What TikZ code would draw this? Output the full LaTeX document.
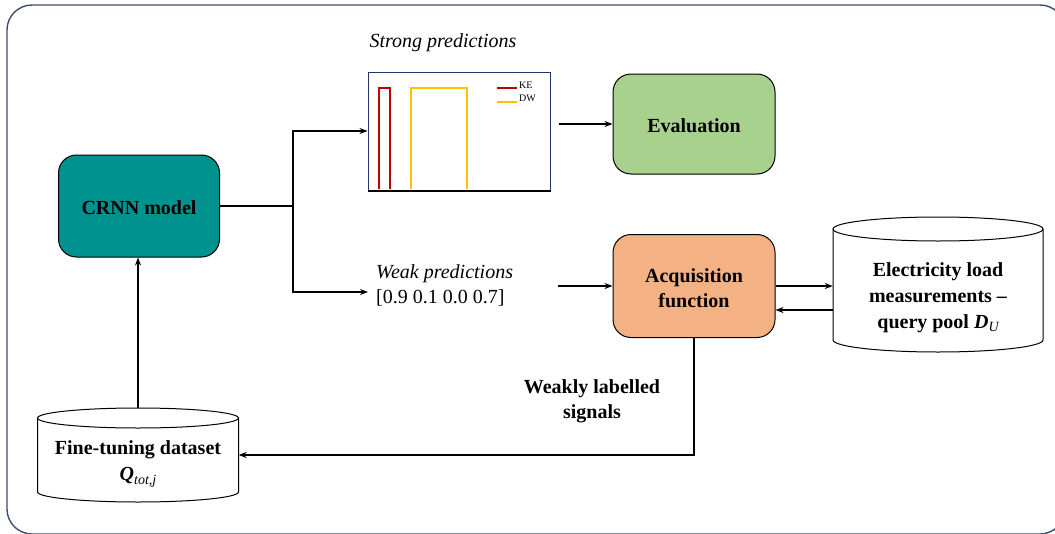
\documentclass[tikz,border=0pt]{standalone}
\usepackage{fontspec}
\setmainfont{Liberation Serif}
\usetikzlibrary{arrows.meta}
\definecolor{crnncol}{RGB}{0,146,143}
\definecolor{evalcol}{RGB}{169,209,142}
\definecolor{acqcol}{RGB}{244,177,131}
\definecolor{framecol}{RGB}{62,78,108}
\definecolor{plotnavy}{RGB}{31,56,100}
\definecolor{pulsered}{RGB}{192,0,0}
\definecolor{pulseyel}{RGB}{255,192,0}
\newcommand{\mysub}[1]{\raisebox{-0.4ex}{\fontsize{14}{14}\selectfont\mdseries\itshape #1}}
\tikzset{
  proc/.style={draw=black, line width=1pt, rounded corners=18pt, minimum width=162pt,
    minimum height=102pt, font=\fontsize{20}{25}\selectfont\bfseries, align=center},
  proctext/.style={inner sep=0pt, font=\fontsize{20}{25}\selectfont\bfseries, align=center},
  dbtext/.style={inner sep=0pt, font=\fontsize{20}{26}\selectfont\bfseries, align=center},
  edge/.style={line width=1.5pt, draw=black},
  arr/.style={edge, -{Stealth[length=8pt,width=6pt]}},
  dbline/.style={line width=1pt, draw=black, fill=white},
  lbl/.style={font=\fontsize{20}{25}\selectfont, align=left, inner sep=0pt}
}
\begin{document}
\begin{tikzpicture}[x=1pt,y=-1pt]
\useasboundingbox (0,0) rectangle (1055,533);
\begin{scope}
\clip (0,0) rectangle (1055,533);
\draw[framecol, line width=1.4pt, rounded corners=25pt] (7,5) rectangle (1065,534);
\end{scope}

% process boxes
\node[proc, fill=crnncol, minimum width=161pt] (crnn) at (139,206) {};
\node[proctext] (crnntext) at (139,208) {CRNN model};
\node[proc, fill=evalcol, minimum height=100pt] (eval) at (694,124) {};
\node[proctext] (evaltext) at (694,126) {Evaluation};
\node[proc, fill=acqcol, minimum height=103pt] (acq) at (694,286) {};
\node[proctext] (acqtext) at (694,288) {Acquisition\\function};

% plot of strong predictions
\node[draw=plotnavy, line width=1pt, minimum width=182pt, minimum height=118pt, inner sep=0pt] (plot) at (459,131) {};
\draw[black, line width=2pt] (plot.south west) -- (plot.south east);
\draw[pulsered, line width=1.5pt] (379,189) -- (379,88) -- (390,88) -- (390,189);
\draw[pulseyel, line width=1.5pt] (411,189) -- (411,88) -- (467,88) -- (467,189);
\draw[pulsered, line width=1.5pt] (497,88) -- (517,88);
\draw[pulseyel, line width=1.5pt] (497,102) -- (517,102);
\node[anchor=west, inner sep=0pt, font=\fontsize{10}{10}\selectfont] (ke) at (519,85) {KE};
\node[anchor=west, inner sep=0pt, font=\fontsize{10}{10}\selectfont] (dw) at (519,98) {DW};
\node[font=\fontsize{20}{25}\selectfont\itshape, inner sep=0pt] (strong) at (443,43) {Strong predictions};

% weak predictions
\node[lbl, anchor=west] (weak) at (376,285) {\textit{Weak predictions}\\{[}0.9 0.1 0.0 0.7{]}};

% electricity cylinder
\draw[dbline] (833,229) -- (833,340)
  .. controls (833,346.6) and (880,352) .. (938,352)
  .. controls (996,352) and (1043,346.6) .. (1043,340) -- (1043,229);
\draw[dbline] (938,229) ellipse [x radius=105, y radius=12];
\node[minimum width=210pt, minimum height=135pt, inner sep=0pt] (elec) at (938,284.5) {};
\node[dbtext] (electext) at (938,297.5) {Electricity load\\measurements –\\query pool \textit{D}\mysub{U}};

% fine-tuning cylinder
\draw[dbline] (37.5,418) -- (37.5,492)
  .. controls (37.5,497.5) and (82.5,502) .. (138,502)
  .. controls (193.5,502) and (238.5,497.5) .. (238.5,492) -- (238.5,418);
\draw[dbline] (138,418) ellipse [x radius=100.5, y radius=10];
\node[minimum width=201pt, minimum height=94pt, inner sep=0pt] (ft) at (138,455) {};
\node[dbtext] (fttext) at (138,464) {Fine-tuning dataset\\\textit{Q}\mysub{tot,j}};

% label
\node[proctext] (wls) at (592,401) {Weakly labelled\\signals};

% connectors
\coordinate (split) at (293,206);
\coordinate (weakin) at (368,292);
\coordinate (weakout) at (558,286);
\draw[edge] (crnn.east) -- (split);
\draw[arr] (split) |- (plot.west);
\draw[arr] (split) |- (weakin);
\draw[arr] ([xshift=8pt]eval.west -| plot.east) -- (eval.west);
\draw[arr] (weakout) -- (acq.west);
\draw[arr] (acq.east) -- (acq.east -| elec.west);
\draw[arr] ([yshift=-24pt]acq.east -| elec.west) -- ([yshift=-24pt]acq.east);
\draw[arr] (acq.south) |- (ft.east);
\draw[arr] (ft.north) -- (ft.north |- crnn.south);
\end{tikzpicture}
\end{document}
